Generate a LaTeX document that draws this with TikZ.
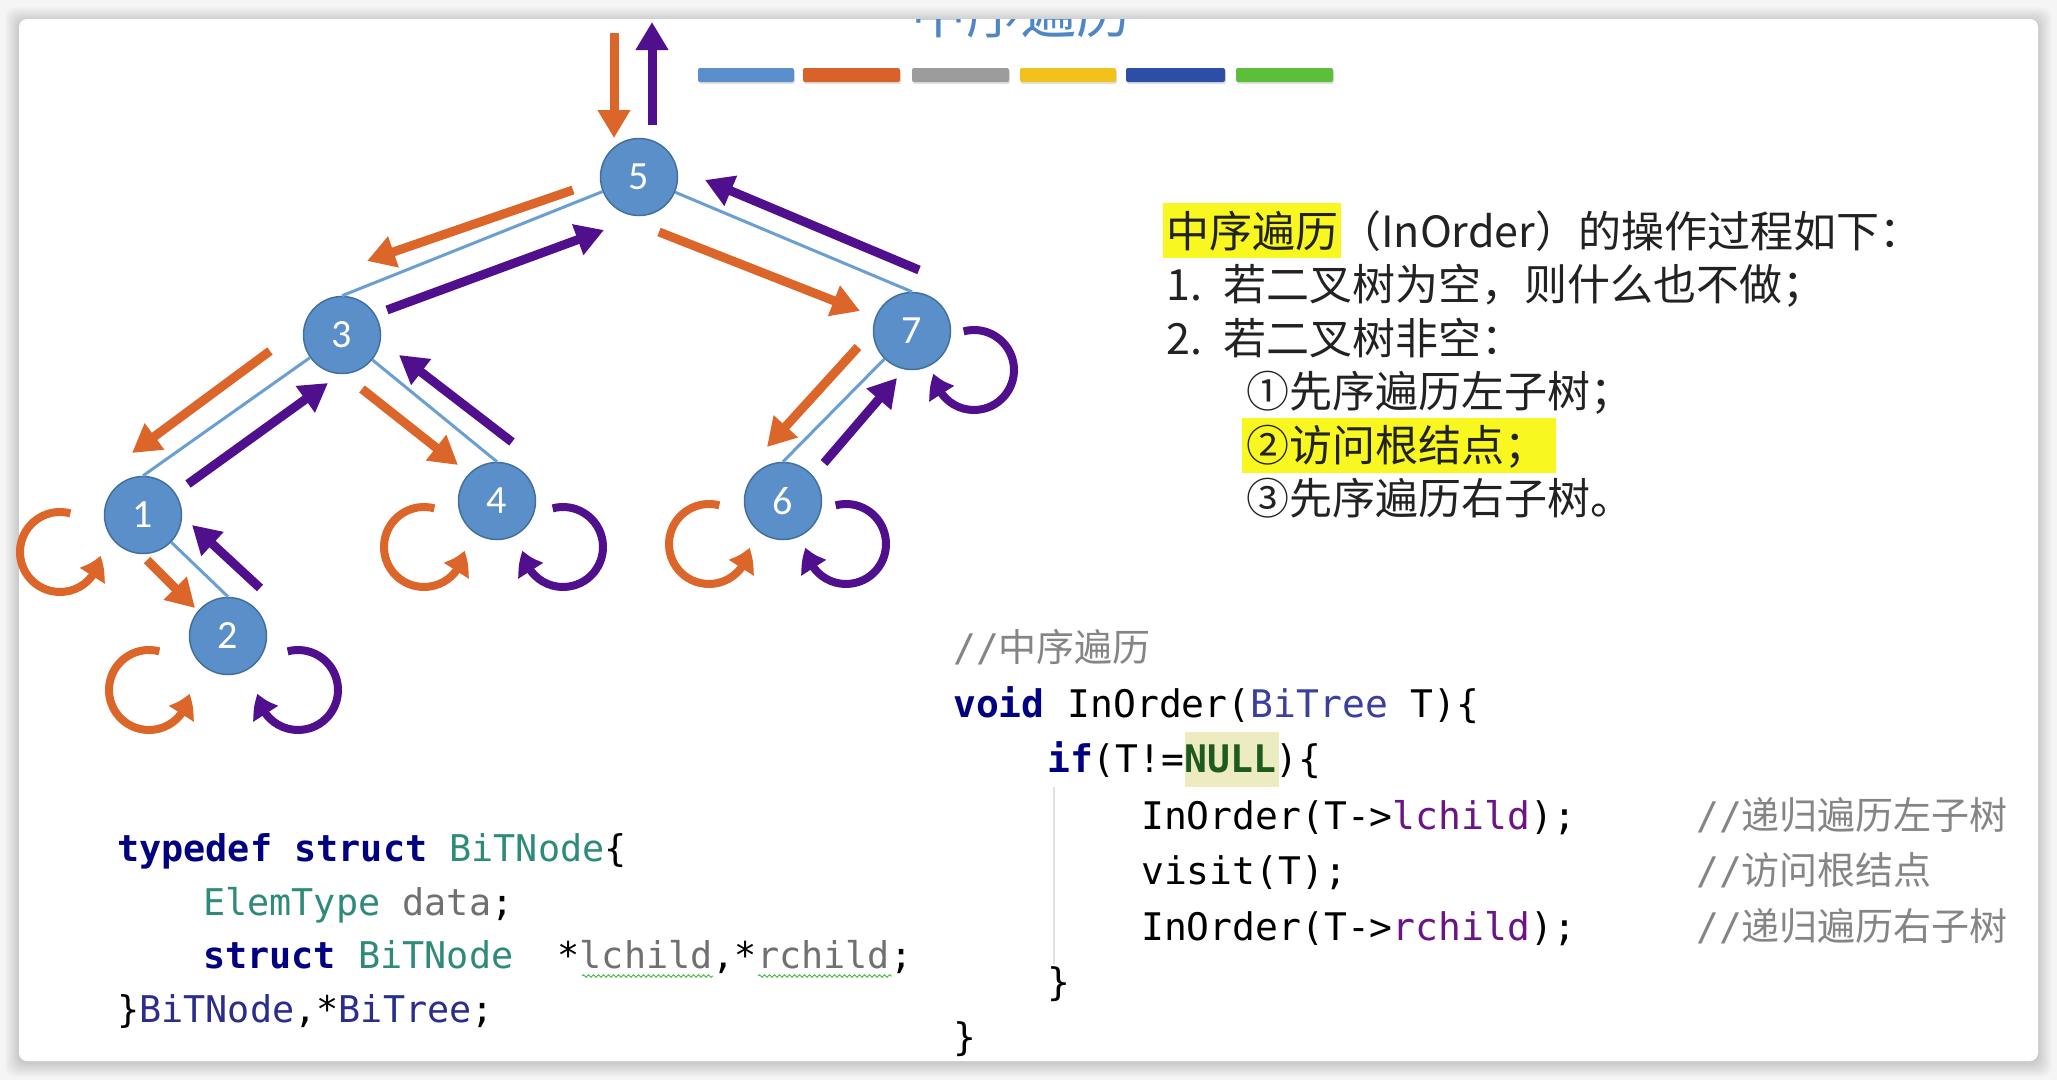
\documentclass[tikz,border=0pt]{standalone}
\usepackage{fontspec}
\usetikzlibrary{arrows.meta,bending,decorations.pathmorphing}
\setmainfont{Carlito}
\newfontfamily\cjk{Noto Sans CJK SC}
\newfontfamily\code{DejaVu Sans Mono}
\definecolor{nodeblue}{HTML}{5B8FC9}
\definecolor{nodeborder}{HTML}{41709E}
\definecolor{edgeblue}{HTML}{6A9FD2}
\definecolor{orng}{HTML}{DC6529}
\definecolor{purp}{HTML}{50108E}
\definecolor{hl}{HTML}{F8F820}
\definecolor{nullbg}{HTML}{ECECC0}
\definecolor{kw}{HTML}{000080}
\definecolor{tealc}{HTML}{2E8B7A}
\definecolor{grayc}{HTML}{707070}
\definecolor{cmt}{HTML}{858585}
\definecolor{indigo}{HTML}{2A2D8C}
\definecolor{tyc}{HTML}{3B3F9E}
\definecolor{fld}{HTML}{6A1488}
\definecolor{nullc}{HTML}{1F5A1F}
\definecolor{txt}{HTML}{222222}
\definecolor{titleblue}{HTML}{4F86C6}
\definecolor{barA}{HTML}{5B8FCC}
\definecolor{barB}{HTML}{D9622B}
\definecolor{barC}{HTML}{9C9C9C}
\definecolor{barD}{HTML}{F2C21C}
\definecolor{barE}{HTML}{2D4EA6}
\definecolor{barF}{HTML}{5CBF3B}
\tikzset{
  tnode/.style={circle, fill=nodeblue, draw=nodeborder, line width=1.5pt, minimum size=77pt, inner sep=0pt, text=white, font=\fontsize{40pt}{40pt}\selectfont},
  tedge/.style={draw=edgeblue, line width=3pt},
  oarr/.style={draw=orng, line width=9pt, -{Triangle[width=31pt 0,length=28pt 0]}},
  parr/.style={draw=purp, line width=9pt, -{Triangle[width=31pt 0,length=28pt 0]}},
  oloop/.style={draw=orng, line width=8pt, -{Triangle[width=28pt 0,length=22pt 0,bend]}},
  ploop/.style={draw=purp, line width=8pt, -{Triangle[width=28pt 0,length=22pt 0,bend]}},
  rtext/.style={anchor=base west, text=txt, inner sep=0pt, font=\cjk\fontsize{43pt}{43pt}\selectfont},
  rcode/.style={anchor=base west, text=black, inner sep=0pt, font=\code\fontsize{38pt}{38pt}\selectfont},
  lcode/.style={anchor=base west, text=black, inner sep=0pt, font=\code\fontsize{36.8pt}{36.8pt}\selectfont},
  bar/.style={rounded corners=2pt},
}
\begin{document}
\begin{tikzpicture}[x=1pt,y=-1pt]
\path[use as bounding box] (0,0) rectangle (2057,1080);
% background and card
\fill[black!4] (0,0) rectangle (2057,1080);
\foreach \d in {1,...,14}{
  \fill[black,opacity=0.012,rounded corners=10pt] (19-\d,19-\d+2) rectangle (2038+\d,1061+\d+2);
}
\fill[white,rounded corners=8pt] (19,19) rectangle (2038,1061);
% clipped title
\begin{scope}
  \clip[rounded corners=8pt] (19,19) rectangle (2038,1061);
  \node[anchor=base, text=titleblue, inner sep=0pt, font=\cjk\fontsize{55pt}{55pt}\selectfont] (title) at (1021,33) {中序遍历};
\end{scope}
% colour bars
\foreach \xa/\xb/\c in {698/794/barA,803/900/barB,912/1009/barC,1020/1116/barD,1126/1225/barE,1236/1333/barF}{
  \fill[black,opacity=0.12,bar] (\xa+1,70) rectangle (\xb+1,84);
  \fill[\c,bar] (\xa,68) rectangle (\xb,82);
}
% tree nodes
\node[tnode] (n5) at (639,177) {5};
\node[tnode] (n3) at (342,335) {3};
\node[tnode] (n7) at (912,331) {7};
\node[tnode] (n1) at (143,515) {1};
\node[tnode] (n4) at (497,501) {4};
\node[tnode] (n6) at (783,501) {6};
\node[tnode] (n2) at (228,636) {2};
% tree edges
\draw[tedge] (n5) -- (n3.north);
\draw[tedge] (n5) -- (n7.north);
\draw[tedge] (n3) -- (n1.north);
\draw[tedge] (n3) -- (n4.north);
\draw[tedge] (n1) -- (n2.north);
\draw[tedge] (n7) -- (n6.north);
% arrow end points
\coordinate (o0a) at (614,33);  \coordinate (o0b) at (614,138);
\coordinate (p0a) at (652,125); \coordinate (p0b) at (652,22);
\coordinate (o53a) at (573,190); \coordinate (o53b) at (367,261);
\coordinate (p35a) at (387,310); \coordinate (p35b) at (604,230);
\coordinate (o57a) at (659,232); \coordinate (o57b) at (860,311);
\coordinate (p75a) at (919,270); \coordinate (p75b) at (705,180);
\coordinate (o31a) at (270,351); \coordinate (o31b) at (132,453);
\coordinate (p13a) at (188,484); \coordinate (p13b) at (328,383);
\coordinate (o34a) at (362,389); \coordinate (o34b) at (458,465);
\coordinate (p43a) at (512,442); \coordinate (p43b) at (399,355);
\coordinate (o12a) at (147,560); \coordinate (o12b) at (195,608);
\coordinate (p21a) at (260,588); \coordinate (p21b) at (192,525);
\coordinate (o76a) at (858,347); \coordinate (o76b) at (767,447);
\coordinate (p67a) at (824,463); \coordinate (p67b) at (897,378);
\draw[oarr] (o0a) -- (o0b);
\draw[parr] (p0a) -- (p0b);
\draw[oarr] (o53a) -- (o53b);
\draw[parr] (p35a) -- (p35b);
\draw[oarr] (o57a) -- (o57b);
\draw[parr] (p75a) -- (p75b);
\draw[oarr] (o31a) -- (o31b);
\draw[parr] (p13a) -- (p13b);
\draw[oarr] (o34a) -- (o34b);
\draw[parr] (p43a) -- (p43b);
\draw[oarr] (o12a) -- (o12b);
\draw[parr] (p21a) -- (p21b);
\draw[oarr] (o76a) -- (o76b);
\draw[parr] (p67a) -- (p67b);
% loops (null children)
\coordinate (lo1) at (60,552);
\coordinate (lo4) at (424,547);
\coordinate (lp4) at (563,547);
\coordinate (lo6) at (709,544);
\coordinate (lp6) at (846,544);
\coordinate (lp7) at (974,370);
\coordinate (lo2) at (149,690);
\coordinate (lp2) at (298,690);
\foreach \c in {lo1,lo4,lo6,lo2}{
  \draw[oloop] (\c) ++(-75:40) arc[start angle=-75,end angle=-355,radius=40];
}
\foreach \c in {lp4,lp6,lp7,lp2}{
  \draw[ploop] (\c) ++(-105:40) arc[start angle=-105,end angle=175,radius=40];
}
% right text block
\fill[hl] (1163,203) rectangle (1341,258);
\fill[hl] (1242,418) rectangle (1556,473);
\node[rtext] (t1) at (1166,247) {中序遍历（InOrder）的操作过程如下：};
\node[rtext] (t2n) at (1166,300) {1.};
\node[rtext] (t2) at (1223,300) {若二叉树为空，则什么也不做；};
\node[rtext] (t3n) at (1166,354) {2.};
\node[rtext] (t3) at (1223,354) {若二叉树非空：};
\node[rtext] (t4) at (1246,407) {①先序遍历左子树；};
\node[rtext] (t5) at (1246,461) {②访问根结点；};
\node[rtext] (t6) at (1246,514) {③先序遍历右子树。};
% right code
\fill[nullbg] (1185,732) rectangle (1279,787);
\draw[black!12, line width=1.2pt] (1054,787) -- (1054,964);
\node[rcode] (c1) at (953,661) {\textcolor{cmt}{//{\cjk 中序遍历}}};
\node[rcode] (c2) at (953,717) {\textcolor{kw}{\bfseries void} InOrder(\textcolor{tyc}{BiTree} T)\{};
\node[rcode] (c3) at (1047,772) {\textcolor{kw}{\bfseries if}(T!=\textcolor{nullc}{\bfseries NULL})\{};
\node[rcode] (c4) at (1141,829) {InOrder(T->\textcolor{fld}{lchild});};
\node[rcode] (c4c) at (1696,829) {\textcolor{cmt}{//{\cjk 递归遍历左子树}}};
\node[rcode] (c5) at (1141,884) {visit(T);};
\node[rcode] (c5c) at (1696,884) {\textcolor{cmt}{//{\cjk 访问根结点}}};
\node[rcode] (c6) at (1141,940) {InOrder(T->\textcolor{fld}{rchild});};
\node[rcode] (c6c) at (1696,940) {\textcolor{cmt}{//{\cjk 递归遍历右子树}}};
\node[rcode] (c7) at (1047,995) {\}};
\node[rcode] (c8) at (953,1050) {\}};
% left code
\node[lcode] (d1) at (117,861) {\textcolor{kw}{\bfseries typedef struct} \textcolor{tealc}{BiTNode}\{};
\node[lcode] (d2) at (203,915) {\textcolor{tealc}{ElemType} \textcolor{grayc}{data};};
\node[lcode] (d3) at (203,968) {\textcolor{kw}{\bfseries struct} \textcolor{tealc}{BiTNode}\ \ *\textcolor{grayc}{lchild},*\textcolor{grayc}{rchild};};
\node[lcode] (d4) at (117,1022) {\}\textcolor{indigo}{BiTNode},*\textcolor{indigo}{BiTree};};
\coordinate (w1a) at (582,976); \coordinate (w1b) at (713,976);
\coordinate (w2a) at (758,976); \coordinate (w2b) at (892,976);
\draw[decorate, decoration={snake, amplitude=1.3pt, segment length=5pt}, draw=green!45!gray, line width=0.9pt] (w1a) -- (w1b);
\draw[decorate, decoration={snake, amplitude=1.3pt, segment length=5pt}, draw=green!45!gray, line width=0.9pt] (w2a) -- (w2b);
\end{tikzpicture}
\end{document}
